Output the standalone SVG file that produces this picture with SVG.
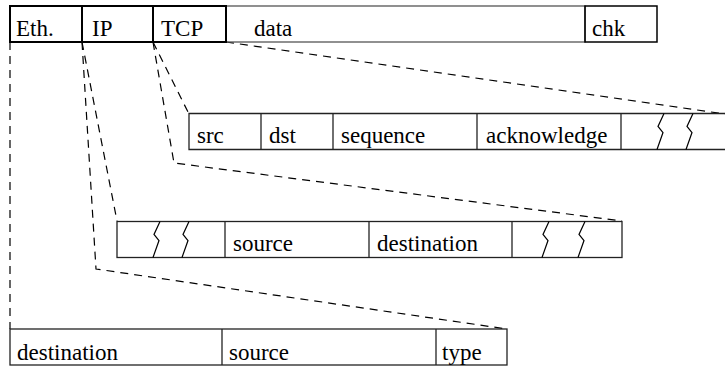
<svg xmlns="http://www.w3.org/2000/svg" width="725" height="367" viewBox="0 0 725 367">
<style>
.box{fill:none;stroke:#222;stroke-width:1.3}
.hdr{fill:none;stroke:#000;stroke-width:2}
.dash{fill:none;stroke:#000;stroke-width:1.2;stroke-dasharray:8,6}
.zz{fill:none;stroke:#000;stroke-width:1.2}
.t{font-family:'Liberation Serif','Times New Roman',serif;font-size:23px;fill:#000}
</style>
<defs>
<polyline id="zig" class="zz" points="0,0 -6,13 -1,19 -7,36"/>
</defs>
<g id="connectors">
<polyline class="dash" points="10,42 10,329"/>
<polyline class="dash" points="82,42 96,269 507,329"/>
<polyline class="dash" points="82,42 117,221"/>
<polyline class="dash" points="153,42 174,163 622,221"/>
<polyline class="dash" points="153,42 189,114"/>
<polyline class="dash" points="226,42 725,114"/>
</g>
<g id="packet" class="t" font-family="Liberation Serif, serif" font-size="23">
<rect class="box" x="226" y="6" width="359" height="36" style="stroke:#555"/>
<rect class="hdr" x="10" y="6" width="72" height="36"/>
<rect class="hdr" x="82" y="6" width="71" height="36"/>
<rect class="hdr" x="153" y="6" width="73" height="36"/>
<rect class="hdr" x="585" y="6" width="72" height="36" style="stroke-width:1.5"/>
<text class="t" x="16" y="36">Eth.</text>
<text class="t" x="92" y="36">IP</text>
<text class="t" x="161" y="36">TCP</text>
<text class="t" x="254" y="36">data</text>
<text class="t" x="592" y="36">chk</text>
</g>
<g id="tcp" class="t" font-family="Liberation Serif, serif" font-size="23">
<polyline class="box" points="725,113.5 189,113.5 189,149.5 725,149.5"/>
<line class="box" x1="261" y1="113.5" x2="261" y2="149.5"/>
<line class="box" x1="333" y1="113.5" x2="333" y2="149.5"/>
<line class="box" x1="477" y1="113.5" x2="477" y2="149.5"/>
<line class="box" x1="621" y1="113.5" x2="621" y2="149.5"/>
<text class="t" x="197" y="143">src</text>
<text class="t" x="269" y="143">dst</text>
<text class="t" x="341" y="143">sequence</text>
<text class="t" x="486" y="143">acknowledge</text>
<use href="#zig" x="664" y="113.5"/>
<use href="#zig" x="693" y="113.5"/>
</g>
<g id="ip" class="t" font-family="Liberation Serif, serif" font-size="23">
<rect class="box" x="117" y="221.5" width="505" height="36"/>
<line class="box" x1="225" y1="221.5" x2="225" y2="257.5"/>
<line class="box" x1="369" y1="221.5" x2="369" y2="257.5"/>
<line class="box" x1="512" y1="221.5" x2="512" y2="257.5"/>
<text class="t" x="233" y="251">source</text>
<text class="t" x="377" y="251">destination</text>
<use href="#zig" x="160" y="221.5"/>
<use href="#zig" x="189" y="221.5"/>
<use href="#zig" x="549" y="221.5"/>
<use href="#zig" x="585" y="221.5"/>
</g>
<g id="ethernet" class="t" font-family="Liberation Serif, serif" font-size="23">
<rect class="box" x="10" y="329" width="497" height="36"/>
<line class="box" x1="222" y1="329" x2="222" y2="365"/>
<line class="box" x1="436" y1="329" x2="436" y2="365"/>
<text class="t" x="17" y="360">destination</text>
<text class="t" x="229" y="360">source</text>
<text class="t" x="442" y="360">type</text>
</g>
</svg>
